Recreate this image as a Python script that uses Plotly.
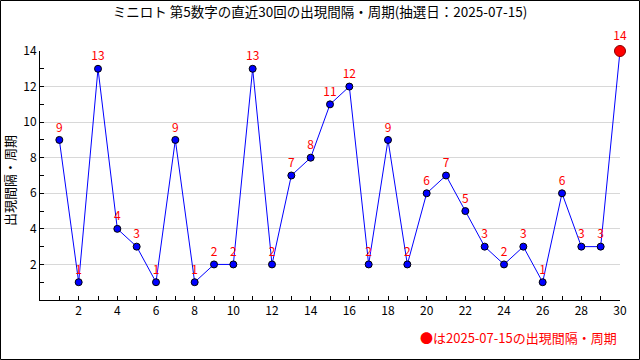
import plotly.graph_objects as go

draws = list(range(1, 31))
intervals = [9, 1, 13, 4, 3, 1, 9, 1, 2, 2, 13, 2, 7, 8, 11, 12, 2, 9, 2, 6,
             7, 5, 3, 2, 3, 1, 6, 3, 3, 14]
x_ticks = list(range(2, 31, 2))
y_ticks = list(range(2, 15, 2))
title_text = "ミニロト 第5数字の直近30回の出現間隔・周期(抽選日：2025-07-15)"
y_title = "出現間隔・周期"
note_text = "●は2025-07-15の出現間隔・周期"

FONT = "Noto Sans CJK JP"

fig = go.Figure()
fig.add_trace(go.Scatter(
    x=draws, y=intervals,
    mode="lines", line=dict(color="#0000ff", width=1),
    hoverinfo="skip", showlegend=False))
fig.add_trace(go.Scatter(
    x=draws[:-1], y=intervals[:-1],
    mode="markers+text",
    marker=dict(color="#0000ff", size=7, line=dict(color="black", width=1)),
    text=[str(v) for v in intervals[:-1]], textposition="top center",
    textfont=dict(color="red", size=12, family=FONT),
    cliponaxis=False, showlegend=False))
fig.add_trace(go.Scatter(
    x=[draws[-1]], y=[intervals[-1]],
    mode="markers+text",
    marker=dict(color="red", size=11, line=dict(color="#880000", width=1)),
    text=[str(intervals[-1])], textposition="top center",
    textfont=dict(color="red", size=12, family=FONT),
    cliponaxis=False, showlegend=False))

fig.update_layout(
    width=640, height=360,
    margin=dict(l=40, r=20, t=51, b=60, autoexpand=False),
    paper_bgcolor="white", plot_bgcolor="white",
    font=dict(family=FONT, size=12, color="black"),
    title=dict(text=title_text, x=0.5, xanchor="center", y=(360 - 12) / 360,
               yanchor="middle", font=dict(size=13.5, family=FONT, color="black")),
    xaxis=dict(range=[0, 30], tickvals=x_ticks, ticks="inside", ticklen=4,
               tickcolor="black", showgrid=False, zeroline=False,
               showline=True, linecolor="black", linewidth=1,
               tickfont=dict(size=12), automargin=False,
               minor=dict(tickvals=draws, ticks="inside", ticklen=4,
                          tickcolor="black", showgrid=False)),
    yaxis=dict(range=[0, 14], tickvals=y_ticks, ticks="inside", ticklen=4,
               tickcolor="black", showgrid=True, gridcolor="#d8d8d8",
               zeroline=False, showline=True, linecolor="black", linewidth=1,
               tickfont=dict(size=12), automargin=False,
               minor=dict(dtick=1, tick0=0, ticks="inside", ticklen=4,
                          tickcolor="black", showgrid=False)),
    annotations=[
        dict(text=note_text, xref="paper", yref="paper",
             x=(619 - 40) / 580, y=(300 - 337) / 249,
             xanchor="right", yanchor="middle", showarrow=False,
             font=dict(color="red", size=13, family=FONT)),
        dict(text=y_title, xref="paper", yref="paper",
             x=(9 - 40) / 580, y=(300 - 181) / 249, textangle=-90,
             xanchor="center", yanchor="middle", showarrow=False,
             font=dict(color="black", size=13, family=FONT)),
    ],
    shapes=[dict(type="rect", xref="paper", yref="paper",
                 x0=(0.5 - 40) / 580, x1=(639.5 - 40) / 580,
                 y0=(300 - 359.5) / 249, y1=(300 - 0.5) / 249,
                 line=dict(color="black", width=1), layer="above")],
)

fig.write_html("out.html", config={"displayModeBar": False},
               post_script="document.body.style.margin='0';document.body.style.overflow='hidden';")
